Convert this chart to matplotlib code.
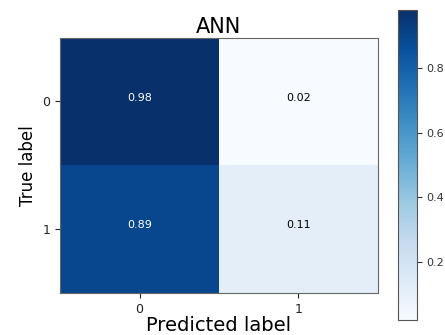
import matplotlib
matplotlib.use("Agg")
import matplotlib.pyplot as plt
import numpy as np

classes = ["0", "1"]
cm = np.array([[0.98, 0.02],
               [0.89, 0.11]])
title = "ANN"

fig = plt.figure(figsize=(4.45, 3.35), dpi=100)
ax = fig.add_axes([0.135, 0.126, 0.714, 0.762])
cax = fig.add_axes([0.894, 0.045, 0.043, 0.925])

im = ax.imshow(cm, cmap="Blues", aspect="auto", interpolation="nearest")
cb = fig.colorbar(im, cax=cax)
cb.set_ticks([0.2, 0.4, 0.6, 0.8])
cb.ax.tick_params(labelsize=8, colors="#333333")
cb.outline.set_edgecolor("#555555")

thresh = cm.max() / 2
for i in range(cm.shape[0]):
    for j in range(cm.shape[1]):
        ax.text(j, i - 0.03, f"{cm[i, j]:.2f}", ha="center", va="center", fontsize=8,
                color="white" if cm[i, j] > thresh else "black")

ax.set_xticks(range(len(classes)))
ax.set_xticklabels(classes)
ax.set_yticks(range(len(classes)))
ax.set_yticklabels(classes)
ax.tick_params(labelsize=9, colors="#222222")
for s in ax.spines.values():
    s.set_edgecolor("#666666")
ax.set_title(title, fontsize=15, pad=3)
ax.set_xlabel("Predicted label", fontsize=14, labelpad=0)
ax.set_ylabel("True label", fontsize=12)

fig.savefig("out.png", dpi=100)
